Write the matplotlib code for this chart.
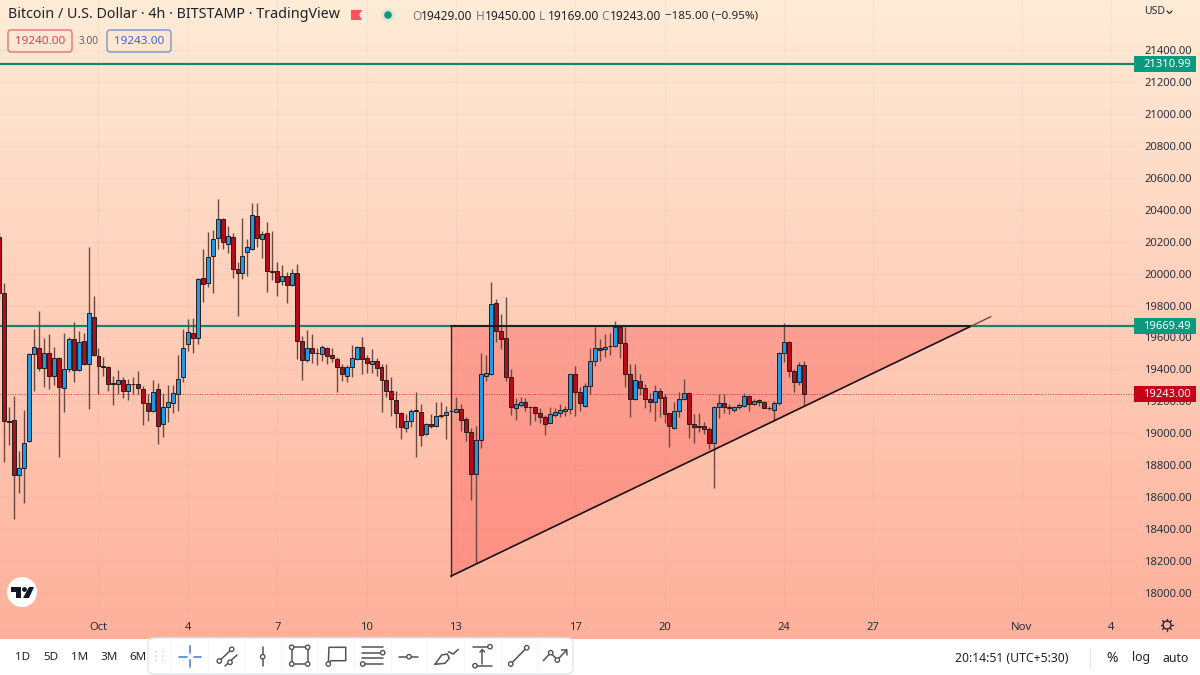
import numpy as np
import matplotlib
matplotlib.use('Agg')
import matplotlib.pyplot as plt
from matplotlib.patches import Rectangle, Circle, FancyBboxPatch, Polygon

plt.rcParams['font.family'] = ['Noto Sans', 'DejaVu Sans']

opens = [20231,19880,19079,19083,18736,18780,18951,19496,19536,19409,
         19505,19358,19469,19283,19400,19590,19396,19580,19436,19728,
         19486,19419,19415,19313,19306,19331,19262,19308,19308,19277,
         19192,19141,19275,19058,19166,19192,19246,19350,19559,19630,
         19598,19974,19943,20112,20225,20341,20187,20229,20028,20005,
         20133,20156,20360,20214,20252,20016,20016,19956,19985,19928,
         20002,19578,19459,19532,19505,19499,19536,19488,19465,19417,
         19361,19413,19467,19538,19469,19432,19451,19413,19334,19265,
         19206,19129,19035,19075,19146,19133,18993,19060,19044,19112,
         19114,19137,19135,19152,19087,19008,18747,18958,19361,19371,
         19814,19638,19595,19351,19161,19178,19198,19167,19163,19130,
         19100,19067,19117,19130,19142,19155,19372,19259,19171,19297,
         19455,19537,19526,19545,19547,19668,19564,19372,19217,19330,
         19282,19217,19198,19267,19226,19125,19036,19142,19213,19255,
         19059,19046,19046,19027,18942,19167,19188,19165,19148,19163,
         19173,19234,19182,19207,19194,19161,19146,19192,19505,19574,
         19392,19321,19429]
highs = [20252,19943,19162,19233,18889,19146,19500,19653,19768,19594,
         19619,19542,19475,19630,19605,19697,19638,19630,20168,19859,
         19532,19479,19420,19358,19396,19350,19340,19350,19390,19298,
         19246,19333,19313,19250,19302,19302,19490,19651,19713,19724,
         19975,20152,20262,20273,20467,20350,20300,20252,20074,20346,
         20214,20440,20444,20268,20325,20268,20074,20054,20012,20027,
         20060,19609,19647,19622,19536,19553,19542,19532,19480,19434,
         19428,19553,19547,19601,19490,19526,19469,19434,19434,19350,
         19267,19135,19119,19150,19261,19181,19062,19121,19198,19194,
         19171,19150,19229,19183,19104,19035,19046,19501,19490,19945,
         19839,19745,19851,19401,19223,19230,19219,19171,19171,19157,
         19115,19163,19157,19184,19171,19372,19424,19292,19317,19537,
         19668,19589,19620,19626,19704,19675,19668,19432,19432,19372,
         19309,19251,19303,19282,19246,19130,19198,19261,19338,19260,
         19121,19125,19073,19042,19170,19244,19244,19184,19171,19188,
         19251,19240,19213,19217,19205,19171,19205,19511,19689,19580,
         19400,19449,19450]
lows = [19834,18822,18926,18461,18624,18561,18945,19265,19390,19288,
        19275,19302,18853,19135,19386,19319,19390,19430,19152,19485,
        19246,19358,19265,19175,19244,19219,19208,19246,19246,19050,
        19079,19135,18933,18974,19068,19125,19139,19323,19517,19500,
        19559,19820,19918,19880,20154,20152,20126,19970,19734,19964,
        19985,20150,20164,20095,19883,19960,19862,19928,19818,19920,
        19463,19334,19449,19438,19428,19455,19432,19444,19261,19330,
        19323,19355,19460,19369,19380,19375,19361,19135,19229,19110,
        19031,18964,19010,19037,18854,18922,18989,19031,19041,19098,
        18964,19132,19131,19014,18954,18582,18186,18906,19330,19365,
        19574,19526,19330,19115,19084,19167,19140,19052,19080,19067,
        18990,19063,19105,19100,19109,19121,19111,19140,19167,19244,
        19424,19453,19476,19491,19543,19470,19288,19100,19209,19240,
        19161,19136,19080,19105,19063,18913,19030,19105,19209,18973,
        18938,19011,18996,18902,18660,19094,19125,19121,19136,19150,
        19167,19140,19178,19171,19157,19146,19080,19178,19449,19351,
        19261,19303,19169]
closes = [19880,19079,19068,18736,18780,18937,19496,19538,19409,19500,
          19358,19469,19288,19400,19590,19396,19573,19436,19751,19490,
          19419,19413,19310,19310,19331,19265,19308,19306,19283,19192,
          19141,19258,19045,19162,19194,19250,19338,19536,19632,19598,
          19966,19937,20101,20218,20341,20200,20233,20028,20001,20112,
          20164,20366,20225,20248,20016,20010,19949,19985,19928,20002,
          19578,19459,19532,19503,19501,19538,19486,19473,19417,19373,
          19413,19473,19538,19463,19442,19451,19411,19334,19265,19215,
          19129,19037,19077,19137,19142,18991,19058,19046,19108,19110,
          19133,19142,19154,19085,19008,18747,18956,19369,19375,19810,
          19643,19592,19350,19167,19182,19198,19167,19163,19130,19100,
          19061,19119,19136,19144,19153,19372,19259,19192,19297,19455,
          19534,19524,19543,19549,19668,19564,19372,19217,19332,19282,
          19217,19194,19267,19223,19123,19046,19140,19213,19255,19059,
          19040,19040,19027,18942,19163,19188,19165,19161,19163,19175,
          19234,19186,19201,19198,19161,19157,19192,19505,19570,19392,
          19321,19426,19243]

price_ticks = list(range(18000, 21401, 200))
time_ticks = [20, 38, 56, 74, 92, 116, 134, 158, 176, 206, 224]
time_labels = ['Oct', '4', '7', '10', '13', '17', '20', '24', '27', 'Nov', '4']

level_high = 21310.99
level_mid = 19669.49
last_price = 19243.00

# triangle drawing: bar index / price of the rising line ends
rise_x = [91.0, 199.7]
rise_y = [18106, 19730]

UP = '#1e9be8'
DOWN = '#b20d1c'
GREEN = '#14866f'
TAG_GREEN = '#0c9a7f'
TAG_RED = '#c4001a'
TXT = '#2a2e39'
ICON = '#50535e'

W, H = 1200, 675
CHART_W, CHART_H = 1135, 612
PX_PER_PRICE = 0.15971


def price_y(p):
    """Pixel row of a price, for the tags on the price scale"""
    return 50 + (21400 - p) * PX_PER_PRICE


fig = plt.figure(figsize=(W / 100, H / 100), dpi=100)

# gradient background
bg = fig.add_axes([0, 0, 1, 1], zorder=0)
grad = np.zeros((640, 1, 3))
for c, (a, b) in enumerate([(254, 255), (236, 176), (215, 155)]):
    grad[:, 0, c] = np.linspace(a, b, 640) / 255
bg.imshow(grad, aspect='auto', extent=[0, W, 640, 0])
bg.set_xlim(0, W)
bg.set_ylim(H, 0)
bg.axis('off')

# chart
ax = fig.add_axes([0, (H - CHART_H) / H, CHART_W / W, CHART_H / H], zorder=1)
ax.patch.set_alpha(0)
ax.set_xlim(20 - 98.5 / 4.965, 20 + (CHART_W - 98.5) / 4.965)
ax.set_ylim(21400 - (CHART_H - 50) / PX_PER_PRICE, 21400 + 50 / PX_PER_PRICE)
for s in ax.spines.values():
    s.set_visible(False)

ax.yaxis.tick_right()
ax.set_yticks(price_ticks)
ax.set_yticklabels([f'{p}.00' for p in price_ticks])
ax.set_xticks(time_ticks)
ax.set_xticklabels(time_labels)
ax.tick_params(axis='both', length=0, labelsize=8.1, labelcolor=TXT)
ax.tick_params(axis='y', pad=6.5)
ax.tick_params(axis='x', pad=7)
ax.grid(True, color='#c87850', alpha=0.07, lw=0.8)
ax.set_axisbelow(True)

# triangle
slope = (rise_y[1] - rise_y[0]) / (rise_x[1] - rise_x[0])
meet_x = rise_x[0] + (level_mid - rise_y[0]) / slope
ax.add_patch(Polygon([(rise_x[0], level_mid), (meet_x, level_mid), (rise_x[0], rise_y[0])],
                     closed=True, facecolor='#f95050', alpha=0.36, edgecolor='none', zorder=1.5))

ax.axhline(level_high, color=GREEN, lw=1.6, zorder=2)
ax.axhline(level_mid, color=GREEN, lw=1.6, zorder=2)
ax.axhline(last_price, color=TAG_RED, lw=0.7, ls=(0, (1, 1.5)), alpha=0.7, zorder=2)

# candles
xs = np.arange(len(opens))
o, h, l, c = map(np.array, (opens, highs, lows, closes))
up = c >= o
ax.vlines(xs, l, h, color='#6a4a40', lw=1, zorder=3)
ax.bar(xs, np.abs(c - o), bottom=np.minimum(o, c), width=0.8,
       color=np.where(up, UP, DOWN), edgecolor='#2a1c1c', lw=0.7, zorder=4)

# triangle outline goes over the candles
ax.plot([rise_x[0], rise_x[0]], [rise_y[0], level_mid], color='#3a2420', lw=1, zorder=5)
ax.plot([rise_x[0], meet_x], [level_mid, level_mid], color='#1a1a1a', lw=1.3, zorder=5)
ax.plot([rise_x[0], meet_x], [rise_y[0], level_mid], color='#1a0f0f', lw=1.2, zorder=5)
ax.plot([meet_x, rise_x[1]], [level_mid, rise_y[1]], color='#6a4a40', lw=1, zorder=5)

# everything else in screen pixels
ov = fig.add_axes([0, 0, 1, 1], zorder=2)
ov.set_xlim(0, W)
ov.set_ylim(H, 0)
ov.axis('off')


def label(x, y, s, size=8, color=TXT, ha='left', **kw):
    ov.text(x, y, s, fontsize=size, color=color, ha=ha, va='center', **kw)


def line(xv, yv, color=ICON, lw=1.1):
    ov.plot(xv, yv, color=color, lw=lw, solid_capstyle='round')


def dot(x, y, r=2.2, color=ICON):
    ov.add_patch(Circle((x, y), r, facecolor='white', edgecolor=color, lw=1, zorder=6))


# price tags
for p, col in [(level_high, TAG_GREEN), (level_mid, TAG_GREEN), (last_price, TAG_RED)]:
    yy = price_y(p)
    ov.add_patch(Rectangle((1134, yy - 8), 61.5, 16, facecolor=col, edgecolor='none'))
    label(1167, yy, f'{p:.2f}', size=8.1, color='white', ha='center', fontweight='bold')

label(1144, 12, 'USD', size=7.5)
line([1167, 1169.5, 1172], [11, 13.5, 11], color=TXT, lw=0.9)

# legend row
label(8, 15, 'Bitcoin / U.S. Dollar · 4h · BITSTAMP · TradingView', size=10.25, color='#1f222b')
ov.add_patch(Polygon([(351, 10), (362, 10), (359, 15), (362, 20), (351, 20)], facecolor='#f7525f', edgecolor='none'))
ov.add_patch(Circle((388, 15), 7, facecolor='#cfe3d0', edgecolor='none', alpha=0.6))
ov.add_patch(Circle((388, 15), 3.8, facecolor='#0c9a7f', edgecolor='none'))
for x, k, v in [(412, 'O', '19429.00'), (476, 'H', '19450.00'), (539, 'L', '19169.00'), (601, 'C', '19243.00')]:
    label(x, 16, k, size=8.6, color='#787b86')
    label(x + 9, 16, v, size=8.6, color='#1f222b')
label(665, 16, '−185.00 (−0.95%)', size=8.4, color='#1f222b')

ov.add_patch(FancyBboxPatch((8, 30), 64, 22, boxstyle='round,pad=0,rounding_size=3', facecolor='none', edgecolor='#e0707c', lw=1))
ov.add_patch(FancyBboxPatch((107, 30), 64, 22, boxstyle='round,pad=0,rounding_size=3', facecolor='none', edgecolor='#7a90cc', lw=1))
label(40, 41, '19240.00', size=8.4, color='#e0405a', ha='center')
label(89, 41, '3.00', size=7.2, color='#5a5d68', ha='center')
label(139, 41, '19243.00', size=8.4, color='#3a64d8', ha='center')

# logo badge
ov.add_patch(Circle((22, 592), 15, facecolor='white', edgecolor='none'))
ov.add_patch(Polygon([(11, 587), (21, 587), (21, 598), (16, 598), (16, 592), (11, 592)], facecolor='#131722', edgecolor='none'))
ov.add_patch(Circle((24.5, 589.5), 2.4, facecolor='#131722', edgecolor='none'))
ov.add_patch(Polygon([(29, 587), (34, 587), (29, 598), (23, 598)], facecolor='#131722', edgecolor='none'))

# settings gear on the time scale
ov.add_patch(Circle((1167, 625), 4, facecolor='none', edgecolor=TXT, lw=1))
for a in np.arange(0, 2 * np.pi, np.pi / 4):
    line([1167 + 4 * np.cos(a), 1167 + 6.3 * np.cos(a)], [625 + 4 * np.sin(a), 625 + 6.3 * np.sin(a)], color=TXT, lw=1)

# bottom bar
ov.add_patch(Rectangle((0, 639), W, H - 639, facecolor='white', edgecolor='none'))
for x, s in [(23, '1D'), (51, '5D'), (80, '1M'), (109, '3M'), (138, '6M')]:
    label(x, 658, s, size=8.4, ha='center', color='#1f222b')
label(955, 658, '20:14:51 (UTC+5:30)', size=8.8, color='#1f222b')
line([1090, 1090], [648, 668], color='#e6e8ee', lw=1)
label(1112, 658, '%', size=10, ha='center', color='#1f222b')
label(1141, 658, 'log', size=8.8, ha='center', color='#1f222b')
label(1176, 658, 'auto', size=8.8, ha='center', color='#1f222b')

# floating drawing toolbar
ov.add_patch(FancyBboxPatch((148, 638), 425, 36, boxstyle='round,pad=0,rounding_size=6',
                            facecolor='white', edgecolor='#e3e4e9', lw=1, zorder=5))
for x in [171, 207.7, 244, 281, 317, 354, 390.7, 427.3, 464, 500.7, 536.7]:
    ov.plot([x, x], [639, 673], color='#f6f7fa', lw=0.8, zorder=5)
for x in [156, 162.7]:
    for y in [651.7, 656, 660.7]:
        ov.add_patch(Circle((x, y), 0.8, facecolor='#c4c6cf', edgecolor='none', zorder=6))


def iline(xv, yv, color=ICON, lw=1.1):
    ov.plot(xv, yv, color=color, lw=lw, zorder=6, solid_capstyle='round')


# crosshair
for xv, yv in [([179, 186.5], [656.7, 656.7]), ([193.5, 201], [656.7, 656.7]),
               ([190, 190], [646, 653.3]), ([190, 190], [660, 667.3])]:
    iline(xv, yv, color='#5b8fd9', lw=1.3)
# channel
iline([219.3, 231.7], [661, 649.3])
iline([225, 237], [666, 655])
dot(219.3, 661); dot(231.7, 649.3); dot(230, 662.3)
# vertical line
iline([262.7, 262.7], [646.7, 666])
dot(262.7, 656.7)
# rectangle
iline([291.7, 307.7, 307.7, 291.7, 291.7], [647.3, 647.3, 664, 664, 647.3])
for x, y in [(291.7, 647.3), (307.7, 647.3), (307.7, 664), (291.7, 664)]:
    dot(x, y)
# callout
iline([328.3, 329, 345.7, 345.7, 331, 328.3], [664, 647.3, 647.3, 660.7, 660.7, 664])
dot(328.3, 664)
# parallel lines
iline([361.7, 382.7], [647.3, 647.3])
iline([361.7, 382.7], [652.7, 652.7])
iline([361.7, 382.7], [658.3, 658.3])
iline([363, 382.7], [664, 664])
dot(382.7, 652.7); dot(362.7, 664)
# horizontal line
iline([399.3, 418.3], [656.7, 656.7])
dot(409, 656.7)
# brush
iline([435, 441.7, 447.3, 449.3, 445, 435], [664.3, 655, 654, 658.3, 663.3, 664.3])
iline([448.3, 453.3, 458.3], [651.7, 654, 649.3])
# measure
iline([472.7, 490], [646.7, 646.7])
iline([475, 491.7], [665.7, 665.7])
iline([482.3, 482.3], [664, 650])
iline([480, 482.3, 484.6], [652, 649.5, 652])
dot(490, 646.7); dot(475, 665.7)
# trend line
iline([510.7, 526.7], [664, 647.7])
dot(510.7, 664); dot(526.7, 647.7)
# path
iline([543.3, 550.7, 557.3, 566.7], [660.7, 652.7, 660, 650])
iline([561.5, 566.7, 567], [650, 650, 655])
dot(550.7, 652.7); dot(557.3, 660)

fig.savefig('out.png', dpi=100)
